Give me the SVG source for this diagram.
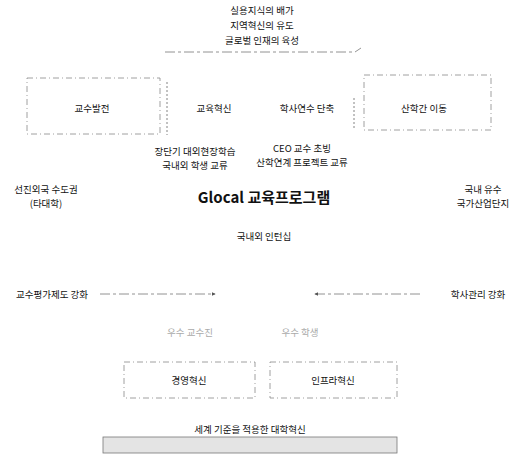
<svg xmlns="http://www.w3.org/2000/svg" width="516" height="455" viewBox="0 0 516 455">
<defs>
<style>
text{font-family:"Noto Sans CJK KR","Noto Sans",sans-serif;font-size:9.5px;fill:#111;text-anchor:middle}
.faint{fill:#aaa}
.big{font-size:15px;font-weight:bold}
.box{fill:none;stroke:#888;stroke-width:0.8;stroke-dasharray:6 3 1 3}
.div{fill:none;stroke:#666;stroke-width:0.8;stroke-dasharray:2 2}
.con{fill:none;stroke:#777;stroke-width:0.8;stroke-dasharray:10 3 3 3}
</style>
<marker id="ah" viewBox="0 0 6 6" refX="5" refY="3" markerWidth="5" markerHeight="5" orient="auto-start-reverse">
<path d="M0,0L6,3L0,6z" fill="#555"/>
</marker>
</defs>
<rect width="516" height="455" fill="#fff"/>
<g id="goal">
<text x="262" y="14">실용지식의 배가</text>
<text x="262" y="29">지역혁신의 유도</text>
<text x="262" y="44">글로벌 인재의 육성</text>
</g>
<g id="connectors">
<path class="con" d="M165,52H355l6,-4"/>
<path class="con" d="M100,294H215" marker-end="url(#ah)"/>
<path class="con" d="M420,294H315" marker-end="url(#ah)"/>
<path class="div" d="M167,82V135"/>
<path class="div" d="M354,98V130"/>
</g>
<g id="n1"><rect class="box" x="27" y="78" width="133" height="56"/><text x="92" y="112">교수발전</text></g>
<g id="n2"><text x="214" y="112">교육혁신</text></g>
<g id="n3"><text x="307" y="112">학사연수 단축</text></g>
<g id="n4"><rect class="box" x="364" y="75" width="127" height="55"/><text x="424" y="112">산학간 이동</text></g>
<g id="n5"><text x="195" y="155">장단기 대외현장학습</text><text x="195" y="169">국내외 학생 교류</text></g>
<g id="n6"><text x="302" y="152">CEO 교수 초빙</text><text x="302" y="166">산학연계 프로젝트 교류</text></g>
<g id="n7"><text x="46" y="193">선진외국 수도권</text><text x="46" y="207">(타대학)</text></g>
<g id="n8"><text x="264" y="203" class="big">Glocal 교육프로그램</text></g>
<g id="n9"><text x="483" y="193">국내 유수</text><text x="483" y="207">국가산업단지</text></g>
<g id="n10"><text x="264" y="240">국내외 인턴십</text></g>
<g id="n11"><text x="52" y="298">교수평가제도 강화</text></g>
<g id="n12"><text x="478" y="298">학사관리 강화</text></g>
<g id="n13"><text x="190" y="336" class="faint">우수 교수진</text><text x="300" y="336" class="faint">우수 학생</text></g>
<g id="n14"><rect class="box" x="124" y="362" width="131" height="36"/><text x="189" y="384">경영혁신</text></g>
<g id="n15"><rect class="box" x="270" y="362" width="127" height="36"/><text x="333" y="384">인프라혁신</text></g>
<g id="n16"><text x="250" y="433">세계 기준을 적용한 대학혁신</text>
<rect x="103" y="437" width="294" height="16" fill="#e4e4e4" stroke="#777" stroke-width="0.8"/></g>
</svg>
